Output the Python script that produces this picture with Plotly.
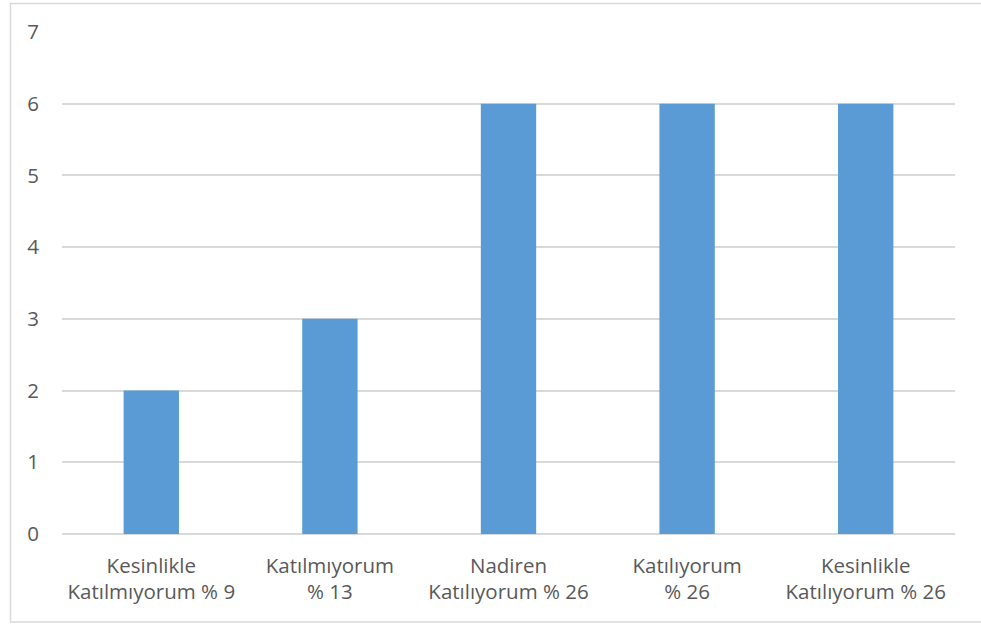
import plotly.graph_objects as go

categories = [
    "Kesinlikle<br>Katılmıyorum % 9",
    "Katılmıyorum<br>% 13",
    "Nadiren<br>Katılıyorum % 26",
    "Katılıyorum<br>% 26",
    "Kesinlikle<br>Katılıyorum % 26",
]
counts = [2, 3, 6, 6, 6]
y_ticks = [0, 1, 2, 3, 4, 5, 6, 7]

bar_color = "#5B9BD5"
text_color = "#595959"
grid_color = "#D9D9D9"
font_family = "Open Sans, Liberation Sans, sans-serif"
font_size = 20.5

fig = go.Figure(
    go.Bar(
        x=categories,
        y=counts,
        marker=dict(color=bar_color, line=dict(width=0)),
        width=0.31,
    )
)

fig.update_layout(
    width=981,
    height=625,
    margin=dict(l=62, r=26, t=32, b=91),
    paper_bgcolor="white",
    plot_bgcolor="white",
    showlegend=False,
    font=dict(family=font_family, size=font_size, color=text_color),
    xaxis=dict(
        showgrid=False,
        showline=False,
        zeroline=False,
        ticks="",
        tickfont=dict(size=font_size, color=text_color),
        ticklabelstandoff=17,
    ),
    yaxis=dict(
        range=[0, 7],
        tickvals=y_ticks,
        showgrid=True,
        gridcolor=grid_color,
        gridwidth=1.5,
        zeroline=True,
        zerolinecolor=grid_color,
        zerolinewidth=1.5,
        showline=False,
        ticks="",
        ticklabelstandoff=22,
        tickfont=dict(size=font_size, color=text_color),
    ),
    shapes=[
        dict(
            type="rect",
            xref="paper",
            yref="paper",
            x0=(10.5 - 62) / 893,
            x1=(990 - 62) / 893,
            y0=(534 - 622) / 502,
            y1=(534 - 3.5) / 502,
            line=dict(color="#D9D9D9", width=1.5),
            fillcolor="rgba(0,0,0,0)",
            layer="below",
        )
    ],
)

fig.write_html("out.html")
